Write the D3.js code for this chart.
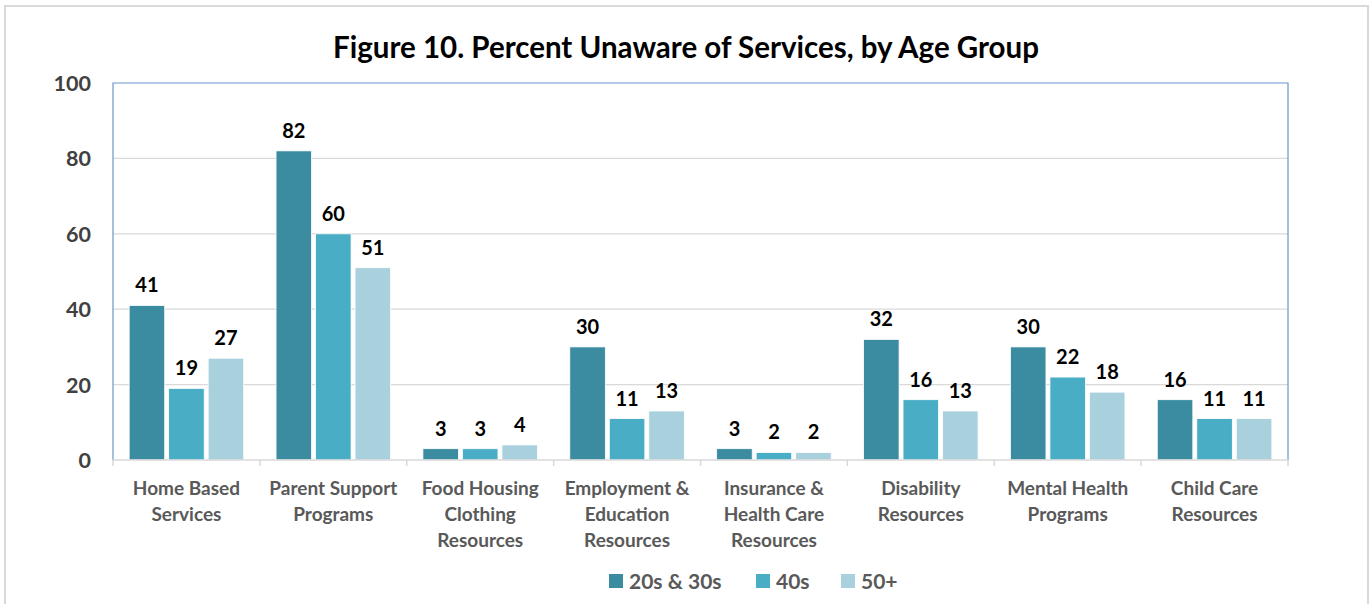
<!DOCTYPE html>
<html>
<head>
<meta charset="utf-8">
<script src="https://cdn.jsdelivr.net/npm/d3@7"></script>
<style>
  html, body { margin: 0; padding: 0; background: #fff; }
  svg { display: block; }
</style>
</head>
<body>
<svg id="chart" width="1371" height="604"></svg>
<script>
// Chart data
const categories = [
  ["Home Based", "Services"],
  ["Parent Support", "Programs"],
  ["Food Housing", "Clothing", "Resources"],
  ["Employment &", "Education", "Resources"],
  ["Insurance &", "Health Care", "Resources"],
  ["Disability", "Resources"],
  ["Mental Health", "Programs"],
  ["Child Care", "Resources"]
];
const seriesNames = ["20s & 30s", "40s", "50+"];
const values20s30s = [41, 82, 3, 30, 3, 32, 30, 16];
const values40s    = [19, 60, 3, 11, 2, 16, 22, 11];
const values50plus = [27, 51, 4, 13, 2, 13, 18, 11];
const yTicks = [0, 20, 40, 60, 80, 100];
const colors = ["#3c8ca1", "#4aadc6", "#a9d0dd"];
const titleText = "Figure 10. Percent Unaware of Services, by Age Group";

const seriesValues = [values20s30s, values40s, values50plus];
const font = "Lato, 'Open Sans', sans-serif";

const svg = d3.select("#chart");
const W = 1371, H = 604;
const plot = { left: 113, right: 1288, top: 83, bottom: 460 };

// outer chart border
svg.append("rect")
  .attr("x", 5).attr("y", 6)
  .attr("width", 1363).attr("height", H + 10)
  .attr("fill", "#fff")
  .attr("stroke", "#d9d9d9").attr("stroke-width", 2);

// title
svg.append("text")
  .attr("x", 686).attr("y", 58)
  .attr("text-anchor", "middle")
  .attr("font-family", font).attr("font-weight", 700)
  .attr("font-size", 29.5).attr("fill", "#000")
  .text(titleText);

const x0 = d3.scaleBand()
  .domain(d3.range(categories.length))
  .range([plot.left, plot.right])
  .paddingInner(0.22).paddingOuter(0.11);
const x1 = d3.scaleBand()
  .domain(d3.range(seriesNames.length))
  .range([0, x0.bandwidth()])
  .paddingInner(0.1);
const y = d3.scaleLinear().domain([0, 100]).range([plot.bottom, plot.top]);

// gridlines
svg.append("g")
  .selectAll("line")
  .data(yTicks.filter(t => t > 0 && t < 100))
  .join("line")
  .attr("x1", plot.left).attr("x2", plot.right)
  .attr("y1", d => y(d)).attr("y2", d => y(d))
  .attr("stroke", "#d9d9d9").attr("stroke-width", 1.3);

// plot frame (left, top, right)
svg.append("path")
  .attr("d", `M${plot.left},${plot.bottom}V${plot.top}H${plot.right}V${plot.bottom}`)
  .attr("fill", "none").attr("stroke", "#6b97cf").attr("stroke-width", 1.2);

// y axis labels
const yAxis = d3.axisLeft(y).tickValues(yTicks).tickSize(0).tickPadding(0);
const gy = svg.append("g").attr("transform", `translate(91,0)`).call(yAxis);
gy.select(".domain").remove();
gy.selectAll("text")
  .attr("font-family", font).attr("font-weight", 700)
  .attr("font-size", 21.5).attr("fill", "#404040")
  .attr("dy", "0.35em");

// bars
const groups = svg.append("g")
  .selectAll("g")
  .data(categories.map((c, i) => i))
  .join("g")
  .attr("transform", i => `translate(${x0(i)},0)`);

groups.selectAll("rect")
  .data(i => seriesValues.map((s, k) => ({ k, v: s[i] })))
  .join("rect")
  .attr("x", d => x1(d.k))
  .attr("width", x1.bandwidth())
  .attr("y", d => y(d.v))
  .attr("height", d => y(0) - y(d.v))
  .attr("fill", d => colors[d.k])
  .attr("stroke", "#fff").attr("stroke-width", 0.8);

groups.selectAll("text.val")
  .data(i => seriesValues.map((s, k) => ({ k, v: s[i] })))
  .join("text")
  .attr("class", "val")
  .attr("x", d => x1(d.k) + x1.bandwidth() / 2)
  .attr("y", d => y(d.v) - 13)
  .attr("text-anchor", "middle")
  .attr("font-family", font).attr("font-weight", 700)
  .attr("font-size", 20).attr("fill", "#000")
  .text(d => d.v);

// x axis: baseline and tick marks at category boundaries
const xAxis = svg.append("g");
xAxis.append("line")
  .attr("x1", plot.left).attr("x2", plot.right)
  .attr("y1", plot.bottom).attr("y2", plot.bottom)
  .attr("stroke", "#d9d9d9").attr("stroke-width", 1.5);
const step = x0.step();
xAxis.selectAll("line.tick")
  .data(d3.range(categories.length + 1))
  .join("line")
  .attr("class", "tick")
  .attr("x1", i => plot.left + i * step).attr("x2", i => plot.left + i * step)
  .attr("y1", plot.bottom).attr("y2", plot.bottom + 6)
  .attr("stroke", "#d9d9d9").attr("stroke-width", 1.5);

// category labels
const catLabels = svg.append("g")
  .selectAll("text")
  .data(categories)
  .join("text")
  .attr("x", (d, i) => x0(i) + x0.bandwidth() / 2)
  .attr("y", 495)
  .attr("text-anchor", "middle")
  .attr("font-family", font).attr("font-weight", 700)
  .attr("font-size", 19).attr("fill", "#595959");
catLabels.selectAll("tspan")
  .data(d => d)
  .join("tspan")
  .attr("x", function () { return d3.select(this.parentNode).attr("x"); })
  .attr("dy", (d, j) => j === 0 ? 0 : 26)
  .text(d => d);

// legend
const legendItems = [
  { x: 609, name: seriesNames[0], color: colors[0] },
  { x: 756, name: seriesNames[1], color: colors[1] },
  { x: 841, name: seriesNames[2], color: colors[2] }
];
const legend = svg.append("g");
legend.selectAll("rect")
  .data(legendItems)
  .join("rect")
  .attr("x", d => d.x).attr("y", 574)
  .attr("width", 14).attr("height", 14)
  .attr("fill", d => d.color);
legend.selectAll("text")
  .data(legendItems)
  .join("text")
  .attr("x", d => d.x + 20).attr("y", 589)
  .attr("font-family", font).attr("font-weight", 700)
  .attr("font-size", 21).attr("fill", "#595959")
  .text(d => d.name);
</script>
</body>
</html>
